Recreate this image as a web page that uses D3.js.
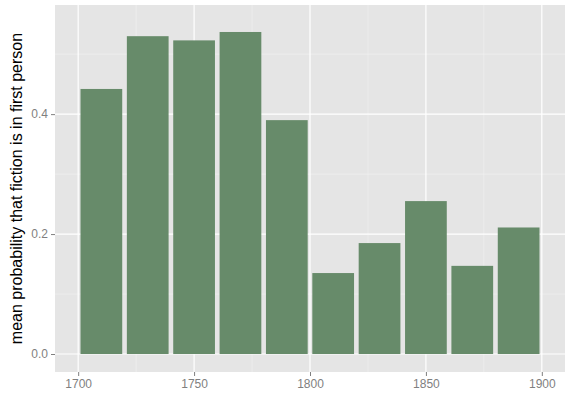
<!DOCTYPE html>
<html><head><meta charset="utf-8">
<script src="https://cdn.jsdelivr.net/npm/d3@7"></script>
<style>body{margin:0;background:#fff}</style>
</head><body>
<script>
const decades = [1710, 1730, 1750, 1770, 1790, 1810, 1830, 1850, 1870, 1890];
const probs = [0.442, 0.530, 0.523, 0.537, 0.390, 0.135, 0.185, 0.255, 0.147, 0.211];
const xTicks = [1700, 1750, 1800, 1850, 1900];
const yTicks = [0, 0.2, 0.4];

const W = 580, H = 413;
const margin = {top: 5, right: 15, bottom: 41, left: 55};

const svg = d3.select("body").append("svg").attr("width", W).attr("height", H)
  .style("font-family", "Liberation Sans, Arial, sans-serif");

const x = d3.scaleLinear([1690, 1910], [margin.left, W - margin.right]);
const y = d3.scaleLinear([-0.03, 0.582], [H - margin.bottom, margin.top]);

// panel
svg.append("rect").attr("x", margin.left).attr("y", margin.top)
  .attr("width", W - margin.left - margin.right).attr("height", H - margin.top - margin.bottom)
  .attr("fill", "#e5e5e5");

// minor grid
svg.append("g").selectAll("line").data([1725, 1775, 1825, 1875]).join("line")
  .attr("x1", d => x(d)).attr("x2", d => x(d)).attr("y1", margin.top).attr("y2", H - margin.bottom)
  .attr("stroke", "#f2f2f2").attr("stroke-width", 0.6);
svg.append("g").selectAll("line").data([0.1, 0.3, 0.5]).join("line")
  .attr("y1", d => y(d)).attr("y2", d => y(d)).attr("x1", margin.left).attr("x2", W - margin.right)
  .attr("stroke", "#f2f2f2").attr("stroke-width", 0.6);
// major grid
svg.append("g").selectAll("line").data(xTicks).join("line")
  .attr("x1", d => x(d)).attr("x2", d => x(d)).attr("y1", margin.top).attr("y2", H - margin.bottom)
  .attr("stroke", "#fff").attr("stroke-width", 1.2);
svg.append("g").selectAll("line").data(yTicks).join("line")
  .attr("y1", d => y(d)).attr("y2", d => y(d)).attr("x1", margin.left).attr("x2", W - margin.right)
  .attr("stroke", "#fff").attr("stroke-width", 1.2);

// bars
svg.append("g").selectAll("rect").data(decades).join("rect")
  .attr("x", (d) => x(d - 9)).attr("width", x(18) - x(0))
  .attr("y", (d, i) => y(probs[i])).attr("height", (d, i) => y(0) - y(probs[i]))
  .attr("fill", "#678b6a");

// axes
const xAxis = svg.append("g").attr("transform", `translate(0,${H - margin.bottom})`)
  .call(d3.axisBottom(x).tickValues(xTicks).tickFormat(d3.format("d")).tickSize(4).tickPadding(3));
const yAxis = svg.append("g").attr("transform", `translate(${margin.left},0)`)
  .call(d3.axisLeft(y).tickValues(yTicks).tickFormat(d3.format(".1f")).tickSize(4).tickPadding(3));
[xAxis, yAxis].forEach(g => {
  g.select(".domain").remove();
  g.selectAll(".tick line").attr("stroke", "#7f7f7f");
  g.selectAll(".tick text").attr("fill", "#7f7f7f").style("font-size", "12px");
});

svg.append("text").attr("transform", `translate(22,${(margin.top + H - margin.bottom) / 2}) rotate(-90)`)
  .attr("text-anchor", "middle").style("font-size", "16px").attr("fill", "#000")
  .text("mean probability that fiction is in first person");
</script>
</body></html>
